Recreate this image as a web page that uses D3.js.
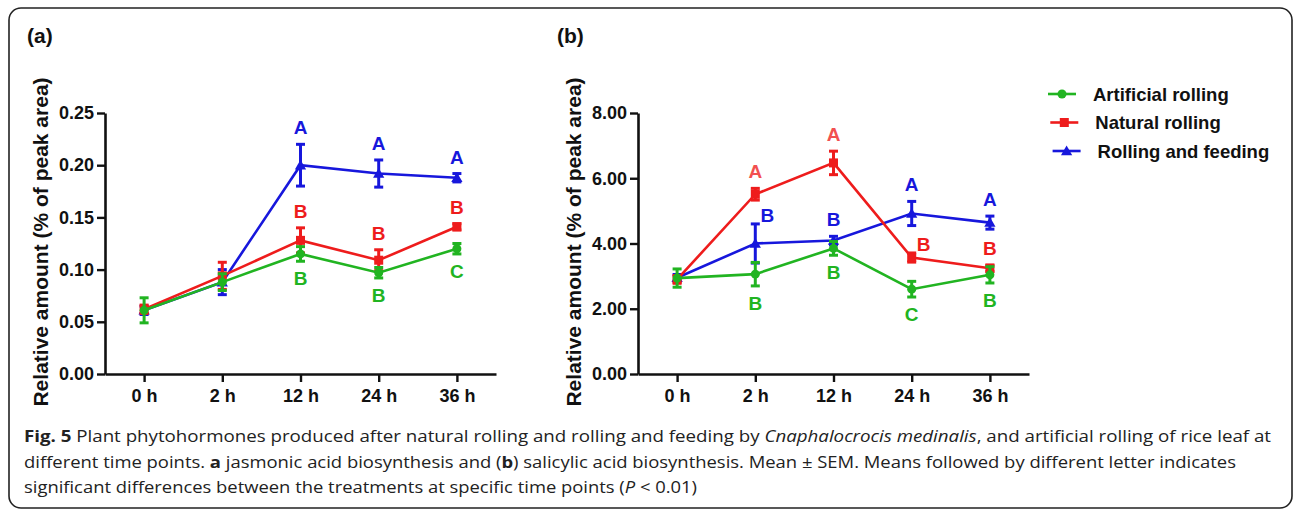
<!DOCTYPE html>
<html><head><meta charset="utf-8">
<script src="https://cdn.jsdelivr.net/npm/d3@7"></script>
<style>body{margin:0;background:#fff} svg{display:block}</style>
</head><body><svg id="c" width="1295" height="513"></svg>
<script>
// ---------- DATA ----------
const timePoints = ["0 h", "2 h", "12 h", "24 h", "36 h"];
const seriesNames = ["Artificial rolling", "Natural rolling", "Rolling and feeding"];

// (a) jasmonic acid
const jaArtificial = [0.061, 0.088, 0.115, 0.097, 0.120];
const jaArtificialSem = [0.012, 0.008, 0.007, 0.005, 0.005];
const jaNatural = [0.062, 0.094, 0.128, 0.109, 0.141];
const jaNaturalSem = [0.004, 0.013, 0.012, 0.010, 0.003];
const jaFeeding = [0.061, 0.088, 0.200, 0.192, 0.188];
const jaFeedingSem = [0.004, 0.012, 0.020, 0.013, 0.004];
const jaLetterArtificial = ["", "", "B", "B", "C"];
const jaLetterNatural = ["", "", "B", "B", "B"];
const jaLetterFeeding = ["", "", "A", "A", "A"];
const jaTicks = [0, 0.05, 0.10, 0.15, 0.20, 0.25];

// (b) salicylic acid
const saArtificial = [2.94, 3.06, 3.85, 2.60, 3.04];
const saArtificialSem = [0.28, 0.36, 0.21, 0.24, 0.25];
const saNatural = [2.90, 5.51, 6.47, 3.57, 3.24];
const saNaturalSem = [0.12, 0.18, 0.36, 0.14, 0.10];
const saFeeding = [2.95, 4.00, 4.09, 4.92, 4.64];
const saFeedingSem = [0.10, 0.60, 0.13, 0.37, 0.20];
const saLetterArtificial = ["", "B", "B", "C", "B"];
const saLetterNatural = ["", "A", "A", "B", "B"];
const saLetterFeeding = ["", "B", "B", "A", "A"];
const saTicks = [0, 2, 4, 6, 8];

// letter placement relative to the error bar: "up", "down", "ur" (upper right)
const jaSideArtificial = ["down", "down", "down", "down", "down"];
const jaSideNatural = ["up", "up", "up", "up", "up"];
const jaSideFeeding = ["up", "up", "up", "up", "up"];
const saSideArtificial = ["down", "down", "down", "down", "down"];
const saSideNatural = ["up", "up", "up", "ur", "up"];
const saSideFeeding = ["up", "ur", "up", "up", "up"];

const yTitle = "Relative amount (% of peak area)";

// ---------- STYLE ----------
const colors = {art: "#21b421", nat: "#ee1c1c", feed: "#1717dc"};
const FONT = "'Liberation Sans', Arial, Helvetica, sans-serif";

const svg = d3.select("#c");

// border
svg.append("rect").attr("x", 9).attr("y", 8).attr("width", 1283).attr("height", 500)
  .attr("rx", 12).attr("fill", "none").attr("stroke", "#222").attr("stroke-width", 1.6);

function makeSeries(vals, sems, letters, sides, key, sym) {
  return {key, sym, pts: timePoints.map((t, i) => ({t, v: vals[i], s: sems[i], letter: letters[i], side: sides[i]}))};
}

const panels = [
  {
    label: "(a)", labelX: 27, axisX: 105, domainMax: 0.25, ticks: jaTicks, fmt: d3.format(".2f"),
    series: [
      makeSeries(jaFeeding, jaFeedingSem, jaLetterFeeding, jaSideFeeding, "feed", "tri"),
      makeSeries(jaNatural, jaNaturalSem, jaLetterNatural, jaSideNatural, "nat", "sq"),
      makeSeries(jaArtificial, jaArtificialSem, jaLetterArtificial, jaSideArtificial, "art", "circ")
    ]
  },
  {
    label: "(b)", labelX: 557, axisX: 638, domainMax: 8, ticks: saTicks, fmt: d3.format(".2f"),
    series: [
      makeSeries(saFeeding, saFeedingSem, saLetterFeeding, saSideFeeding, "feed", "tri"),
      makeSeries(saNatural, saNaturalSem, saLetterNatural, saSideNatural, "nat", "sq"),
      makeSeries(saArtificial, saArtificialSem, saLetterArtificial, saSideArtificial, "art", "circ")
    ]
  }
];

const yTop = 113, yBottom = 374, plotW = 391;

function drawMarker(g, sym, x, y, color) {
  if (sym === "circ") {
    g.append("circle").attr("cx", x).attr("cy", y).attr("r", 4.5).attr("fill", color);
  } else if (sym === "sq") {
    g.append("rect").attr("x", x - 4.5).attr("y", y - 4.5).attr("width", 9).attr("height", 9).attr("fill", color);
  } else {
    g.append("path").attr("d", d3.symbol(d3.symbolTriangle, 55)()).attr("transform", `translate(${x},${y + 1})`).attr("fill", color);
  }
}

panels.forEach((p, pi) => {
  const g = svg.append("g");
  const x = d3.scalePoint().domain(timePoints).range([p.axisX, p.axisX + plotW]).padding(0.5);
  const y = d3.scaleLinear().domain([0, p.domainMax]).range([yBottom, yTop]);

  // panel label
  g.append("text").attr("x", p.labelX).attr("y", 43).text(p.label)
    .attr("font-family", FONT).attr("font-weight", "bold").attr("font-size", 21).attr("fill", "#111");

  // y title
  g.append("text").attr("transform", `translate(${p.axisX - 65},${242}) rotate(-90)`)
    .attr("text-anchor", "middle").attr("dominant-baseline", "central")
    .attr("font-family", FONT).attr("font-weight", "bold").attr("font-size", 21).attr("fill", "#111")
    .text(yTitle);

  // axes
  const ya = g.append("g").attr("transform", `translate(${p.axisX},0)`)
    .call(d3.axisLeft(y).tickValues(p.ticks).tickFormat(p.fmt).tickSize(8).tickSizeOuter(0).tickPadding(3));
  const xa = g.append("g").attr("transform", `translate(0,${yBottom})`)
    .call(d3.axisBottom(x).tickSize(8).tickSizeOuter(0).tickPadding(7));
  [ya, xa].forEach(a => {
    a.select(".domain").attr("stroke", "#111").attr("stroke-width", 2.6);
    a.selectAll(".tick line").attr("stroke", "#111").attr("stroke-width", 2.4);
    a.selectAll(".tick text").attr("font-family", FONT).attr("font-weight", "bold")
      .attr("font-size", 18).attr("fill", "#111");
  });

  // series
  p.series.forEach(ser => {
    const col = colors[ser.key];
    const sg = g.append("g");
    sg.append("path").datum(ser.pts)
      .attr("d", d3.line().x(d => x(d.t)).y(d => y(d.v)))
      .attr("fill", "none").attr("stroke", col).attr("stroke-width", 2.6);
    ser.pts.forEach(d => {
      const cx = x(d.t);
      const t = y(d.v + d.s), b = y(d.v - d.s);
      sg.append("line").attr("x1", cx).attr("x2", cx).attr("y1", t).attr("y2", b)
        .attr("stroke", col).attr("stroke-width", 3);
      [t, b].forEach(yy => sg.append("line").attr("x1", cx - 4.5).attr("x2", cx + 4.5).attr("y1", yy).attr("y2", yy)
        .attr("stroke", col).attr("stroke-width", 3));
      drawMarker(sg, ser.sym, cx, y(d.v), col);
    });
  });

  // significance letters
  p.series.forEach(ser => {
    ser.pts.forEach(d => {
      if (!d.letter) return;
      const cx = x(d.t);
      const t = y(d.v + d.s), b = y(d.v - d.s);
      let lx = cx, cy;
      if (d.side === "up") cy = t - 17;
      else if (d.side === "down") cy = b + 17;
      else { lx = cx + 12; cy = t - 9; }
      let col = colors[ser.key];
      if (pi === 1 && ser.key === "nat" && d.letter === "A") col = "#f25050";
      g.append("text").attr("x", lx).attr("y", cy + 7).attr("text-anchor", "middle")
        .attr("font-family", FONT).attr("font-weight", "bold").attr("font-size", 19)
        .attr("fill", col).text(d.letter);
    });
  });
});

// legend
const legendKeys = [["art", "circ"], ["nat", "sq"], ["feed", "tri"]];
const lg = svg.append("g");
legendKeys.forEach(([k, sym], i) => {
  const yy = 94 + i * 28.5;
  const x0 = 1048 + i * 2.3;
  lg.append("line").attr("x1", x0).attr("x2", x0 + 28).attr("y1", yy).attr("y2", yy)
    .attr("stroke", colors[k]).attr("stroke-width", 2.6);
  drawMarker(lg, sym, x0 + 14, yy, colors[k]);
  lg.append("text").attr("x", x0 + 45).attr("y", yy + 6.5).text(seriesNames[i])
    .attr("font-family", FONT).attr("font-weight", "bold").attr("font-size", 18.5).attr("fill", "#111");
});

// caption
const CAP = "'Open Sans', 'Noto Sans', sans-serif";
const capLines = [
  {y: 442, len: 1247, parts: [["Fig. 5", "b"], [" Plant phytohormones produced after natural rolling and rolling and feeding by ", ""], ["Cnaphalocrocis medinalis", "i"], [", and artificial rolling of rice leaf at", ""]]},
  {y: 467.5, len: 1212, parts: [["different time points. ", ""], ["a", "b"], [" jasmonic acid biosynthesis and (", ""], ["b", "b"], [") salicylic acid biosynthesis. Mean ± SEM. Means followed by different letter indicates", ""]]},
  {y: 493, len: 673, parts: [["significant differences between the treatments at specific time points (", ""], ["P", "i"], [" < 0.01)", ""]]}
];
capLines.forEach(l => {
  const t = svg.append("text").attr("x", 24).attr("y", l.y)
    .attr("font-family", CAP).attr("font-size", 16).attr("fill", "#222")
    .attr("textLength", l.len).attr("lengthAdjust", "spacingAndGlyphs");
  l.parts.forEach(([s, st]) => {
    const ts = t.append("tspan").text(s);
    if (st === "b") ts.attr("font-weight", "bold");
    if (st === "i") ts.attr("font-style", "italic");
  });
});
</script>
</body></html>
